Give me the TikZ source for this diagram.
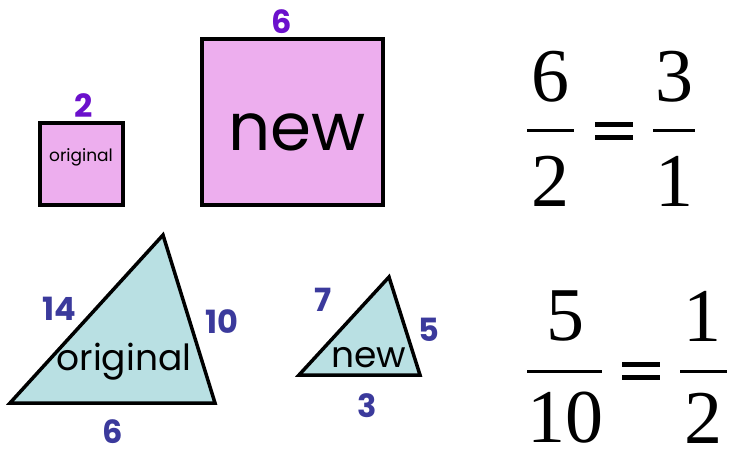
\documentclass[tikz,border=0pt]{standalone}
\usepackage{fontspec}
\setmainfont{Liberation Serif}
\newfontfamily\geo{Poppins}
\definecolor{sqfill}{HTML}{EDAEEE}
\definecolor{trifill}{HTML}{B9E0E3}
\definecolor{sqlab}{HTML}{6B10CC}
\definecolor{trilab}{HTML}{3B3A9C}
\tikzset{
  shapeline/.style={draw=black, line width=3.5pt, line join=miter},
  sqlabel/.style={text=sqlab, font=\geo\bfseries\fontsize{32}{32}\selectfont, inner sep=0pt},
  trilabel/.style={text=trilab, font=\geo\bfseries\fontsize{32}{32}\selectfont, inner sep=0pt},
  digit/.style={font=\fontsize{76}{76}\selectfont, inner sep=0pt},
  fracbar/.style={line width=3pt},
}
\begin{document}
\begin{tikzpicture}[x=1pt,y=-1pt]
\useasboundingbox (0,0) rectangle (729,450);
% squares
\draw[shapeline, fill=sqfill] (40,123) rectangle (123,205);
\draw[shapeline, fill=sqfill] (202,39) rectangle (383,205);
\node[sqlabel] (s2) at (84,106) {2};
\node[sqlabel] (s6) at (282,22) {6};
\node[inner sep=0pt, anchor=base, font=\geo\fontsize{17}{17}\selectfont] (so) at (81,161) {original};
\node[inner sep=0pt, font=\geo\fontsize{66}{66}\selectfont] (sn) at (297,132) {new};
% triangles
\draw[shapeline, fill=trifill] (10,403) -- (163,235) -- (215,403) -- cycle;
\draw[shapeline, fill=trifill] (299,375) -- (389,277) -- (420,375) -- cycle;
\node[inner sep=0pt, anchor=base, font=\geo\fontsize{36}{36}\selectfont] (to) at (124,370) {original};
\node[inner sep=0pt, anchor=base, font=\geo\fontsize{36}{36}\selectfont] (tn) at (369,367) {new};
\node[trilabel] (l14) at (59,309) {14};
\node[trilabel] (l10) at (222,322) {10};
\node[trilabel] (l6) at (113,432) {6};
\node[trilabel] (l7) at (323,300) {7};
\node[trilabel] (l5) at (429,330) {5};
\node[trilabel] (l3) at (367,406) {3};
% fractions top
\node[digit] (f6) at (550,77) {6};
\node[digit] (f2) at (550,181) {2};
\node[digit] (f3) at (674,77) {3};
\node[digit] (f1) at (674,181) {1};
\draw[fracbar] (527,130) -- (574,130);
\draw[fracbar] (653,130) -- (695,130);
\fill (595,122) rectangle (633,127);
\fill (595,135) rectangle (633,140);
% fractions bottom
\node[digit] (g5) at (565,316) {5};
\node[digit] (g10) at (565,418) {10};
\node[digit] (g1) at (702,316) {1};
\node[digit] (g2) at (703,418) {2};
\draw[fracbar] (527,371) -- (602,371);
\draw[fracbar] (680,371) -- (727,371);
\fill (622,362) rectangle (660,367);
\fill (622,375) rectangle (660,380);
\end{tikzpicture}
\end{document}
